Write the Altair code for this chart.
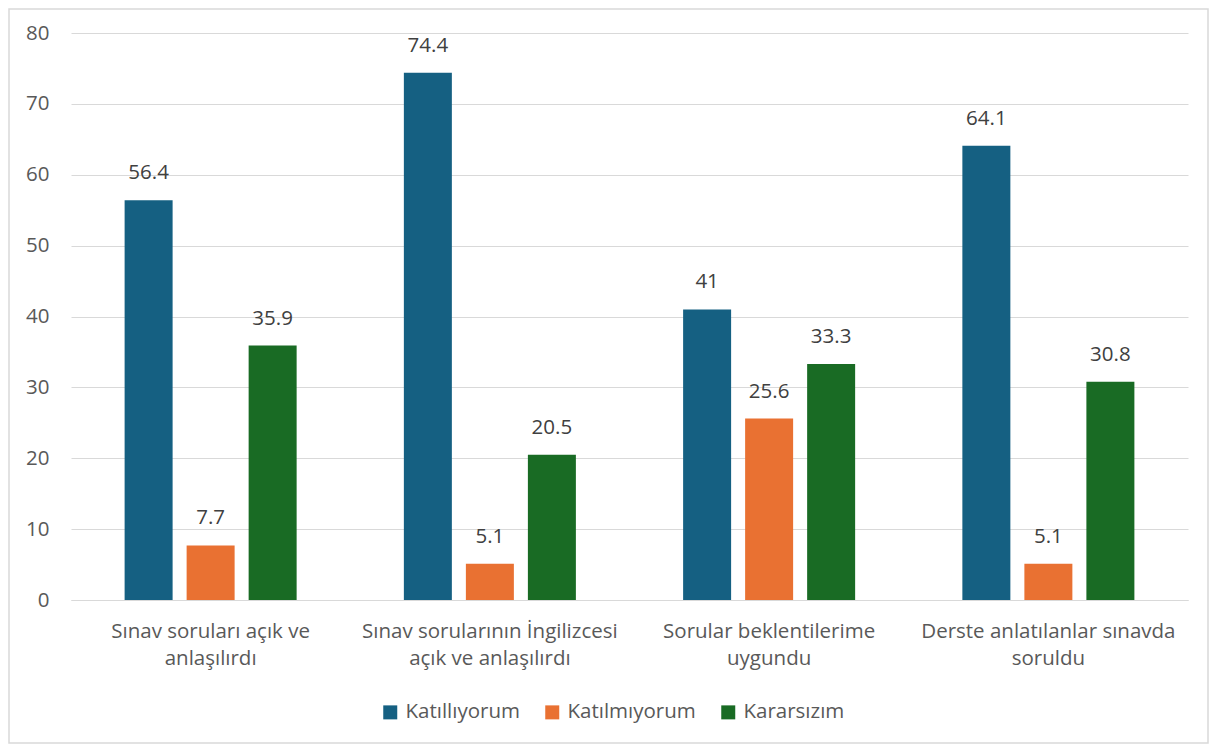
import altair as alt
import pandas as pd

categories = ["Sınav soruları açık ve|anlaşılırdı",
              "Sınav sorularının İngilizcesi|açık ve anlaşılırdı",
              "Sorular beklentilerime|uygundu",
              "Derste anlatılanlar sınavda|soruldu"]
series = ["Katıllıyorum", "Katılmıyorum", "Kararsızım"]
katiliyorum = [56.4, 74.4, 41, 64.1]
katilmiyorum = [7.7, 5.1, 25.6, 5.1]
kararsizim = [35.9, 20.5, 33.3, 30.8]
colors = ["#156082", "#E97132", "#196B24"]

rows = []
for i, c in enumerate(categories):
    for s, vals in zip(series, [katiliyorum, katilmiyorum, kararsizim]):
        rows.append({"cat": c, "series": s, "value": vals[i]})
df = pd.DataFrame(rows)

FONT = "Open Sans"
TXT = "#595959"
FS = 20.5

x = alt.X("cat:N", sort=categories,
          scale=alt.Scale(paddingInner=0.384, paddingOuter=0.192),
          axis=alt.Axis(title=None, labelAngle=0, labelFontSize=FS, labelFont=FONT,
                        labelColor=TXT, labelPadding=21, labelLineHeight=27,
                        labelExpr="split(datum.label, '|')", ticks=False,
                        domainColor="#D9D9D9", domainWidth=1, grid=False,
                        labelLimit=400))
xo = alt.XOffset("series:N", sort=series,
                 scale=alt.Scale(paddingInner=0.226, paddingOuter=0))
y = alt.Y("value:Q", scale=alt.Scale(domain=[0, 80], nice=False),
          axis=alt.Axis(title=None, values=list(range(0, 81, 10)), grid=True,
                        gridColor="#D9D9D9", gridWidth=1, domain=False, ticks=False,
                        labelFontSize=FS, labelFont=FONT, labelColor=TXT,
                        labelPadding=22))

bars = alt.Chart(df).mark_bar().encode(
    x=x, xOffset=xo, y=y,
    color=alt.Color("series:N", sort=series,
                    scale=alt.Scale(domain=series, range=colors),
                    legend=alt.Legend(title=None, orient="none", direction="horizontal",
                                      legendX=309, legendY=669, symbolType="square",
                                      symbolSize=196, symbolStrokeWidth=0,
                                      labelFontSize=FS, labelFont=FONT, labelColor=TXT,
                                      labelOffset=5, columnPadding=22,
                                      symbolOpacity=1))
)

labels = alt.Chart(df).mark_text(baseline="middle", dy=-27, fontSize=FS,
                                 font=FONT, color="#404040").encode(
    x=x, xOffset=xo, y=y, text=alt.Text("value:Q")
)

border = alt.Chart(pd.DataFrame({"a": [0]})).mark_rect(
    fill=None, stroke="#D9D9D9", strokeWidth=1.5
).encode(x=alt.value(-62), x2=alt.value(1137), y=alt.value(-24), y2=alt.value(710))

chart = alt.layer(border, bars, labels).properties(
    width=1117, height=567,
    background="white",
    autosize=alt.AutoSizeParams(type="none"),
    padding={"left": 63, "top": 25, "right": 21, "bottom": 144},
).configure_view(stroke=None)

chart.save("out.html", embed_options={"renderer": "svg", "actions": False})
